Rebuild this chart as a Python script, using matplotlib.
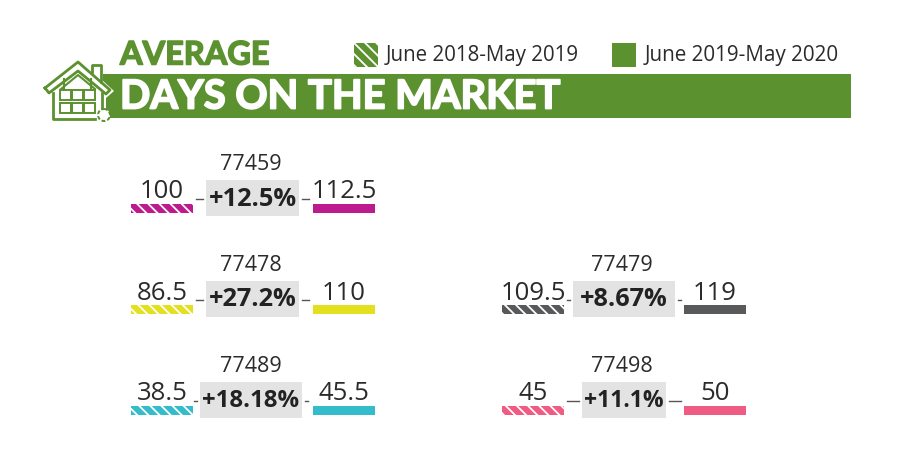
import matplotlib
matplotlib.use('Agg')
import matplotlib.pyplot as plt
import matplotlib.patheffects as pe
from matplotlib.patches import Rectangle, Polygon, Circle

plt.rcParams['hatch.linewidth'] = 1.3

zips = ['77459', '77478', '77489', '77479', '77498']
days_2019 = ['100', '86.5', '38.5', '109.5', '45']
days_2020 = ['112.5', '110', '45.5', '119', '50']
changes = ['+12.5%', '+27.2%', '+18.18%', '+8.67%', '+11.1%']
colors = ['#bd1a8e', '#e3e01f', '#35bccb', '#58595b', '#ef5b82']

legend_labels = ['June 2018-May 2019', 'June 2019-May 2020']
title_top = 'AVERAGE'
title_main = 'DAYS ON THE MARKET'

# layout, in pixels of the 900x470 picture
col_left = [131, 131, 131, 502, 502]
row_top = [163, 264, 365, 264, 365]
box_left = [206, 206, 200, 573, 582]
box_right = [299, 299, 302, 675, 666]
dash_len = [7, 7, 3, 3, 12]
change_size = [18.3, 18.3, 17.3, 18.3, 16.5]

GREEN = '#5c9130'
DARK = '#2b2b2d'

fig = plt.figure(figsize=(9, 4.7), dpi=100)
ax = fig.add_axes([0, 0, 1, 1])
ax.set_xlim(0, 900)
ax.set_ylim(470, 0)
ax.axis('off')

# header
ax.add_patch(Rectangle((103, 74), 748, 44, fc=GREEN, ec='none'))
ax.text(120, 55, title_top, color=GREEN, fontsize=23.4, family='Lato', fontweight='bold',
        va='center', ha='left',
        path_effects=[pe.withStroke(linewidth=1.1, foreground=GREEN)])
ax.text(120, 97, title_main, color='white', fontsize=28.7, family='Lato', fontweight='bold',
        va='center', ha='left',
        path_effects=[pe.withStroke(linewidth=1.3, foreground='white')])

# house icon
ax.add_patch(Polygon([(40, 89), (78, 58), (114, 91), (106, 98), (106, 122), (40, 122)],
                     fc='white', ec='none', zorder=2))
ax.plot([45, 78, 110, 106, 78, 49, 45], [88, 62, 90, 94, 71, 93, 88],
        color=GREEN, lw=2, zorder=3)
ax.plot([53, 53, 95], [93, 119, 119], color=GREEN, lw=2, zorder=3)
ax.plot([102, 102], [93, 112], color=GREEN, lw=2, zorder=3)
ax.plot([92, 92, 101, 101], [72, 65, 65, 82], color=GREEN, lw=2, zorder=3)
ax.plot([61, 78, 95], [89, 75, 89], color=GREEN, lw=1.5, zorder=3)
ax.plot([64, 64], [79, 89], color=GREEN, lw=1.5, zorder=3)
ax.plot([91, 91], [79, 89], color=GREEN, lw=1.5, zorder=3)
for y in [90, 103]:
    for x in [60, 72, 84]:
        ax.add_patch(Rectangle((x, y), 10.5, 9.5, fc='none', ec=GREEN, lw=1.4, zorder=3))
ax.add_patch(Circle((104, 115), 6, fc='white', ec=GREEN, lw=1.4, ls=(0, (2, 1)), zorder=4))

# legend
ax.add_patch(Rectangle((354, 43), 24, 24, fc=GREEN, ec='white', hatch='\\\\\\', lw=0))
ax.add_patch(Rectangle((612, 43), 24, 24, fc=GREEN, ec='none'))
ax.text(386, 55.5, legend_labels[0], color=DARK, fontsize=14.8, family='Open Sans', va='center')
ax.text(645, 55.5, legend_labels[1], color=DARK, fontsize=14.9, family='Open Sans', va='center')

# one block per zip code
for i, z in enumerate(zips):
    x0 = col_left[i]
    y0 = row_top[i]
    x1 = x0 + 182
    mid = (box_left[i] + box_right[i]) / 2

    ax.text(x0 + 120, y0 + 1.5, z, color=DARK, fontsize=15.5, family='Open Sans',
            ha='center', va='center')

    ax.add_patch(Rectangle((box_left[i], y0 + 17), box_right[i] - box_left[i], 36,
                           fc='#e3e3e3', ec='none'))
    ax.text(mid, y0 + 36, changes[i], color='#222222', fontsize=change_size[i],
            family='Open Sans', fontweight='bold', ha='center', va='center')

    ax.add_patch(Rectangle((x0, y0 + 41), 62, 9, fc=colors[i], ec='white', hatch='\\\\\\', lw=0))
    ax.add_patch(Rectangle((x1, y0 + 41), 62, 9, fc=colors[i], ec='none'))
    ax.text(x0 + 31, y0 + 29, days_2019[i], color=DARK, fontsize=18.5, family='Open Sans',
            ha='center', va='center')
    ax.text(x1 + 31, y0 + 29, days_2020[i], color=DARK, fontsize=18.5, family='Open Sans',
            ha='center', va='center')

    # little connectors either side of the box
    ax.plot([box_left[i] - dash_len[i] - 3, box_left[i] - 3], [y0 + 36, y0 + 36],
            color='#555555', lw=1)
    ax.plot([box_right[i] + 3, box_right[i] + dash_len[i] + 3], [y0 + 36, y0 + 36],
            color='#555555', lw=1)

fig.savefig('out.png', dpi=100)
